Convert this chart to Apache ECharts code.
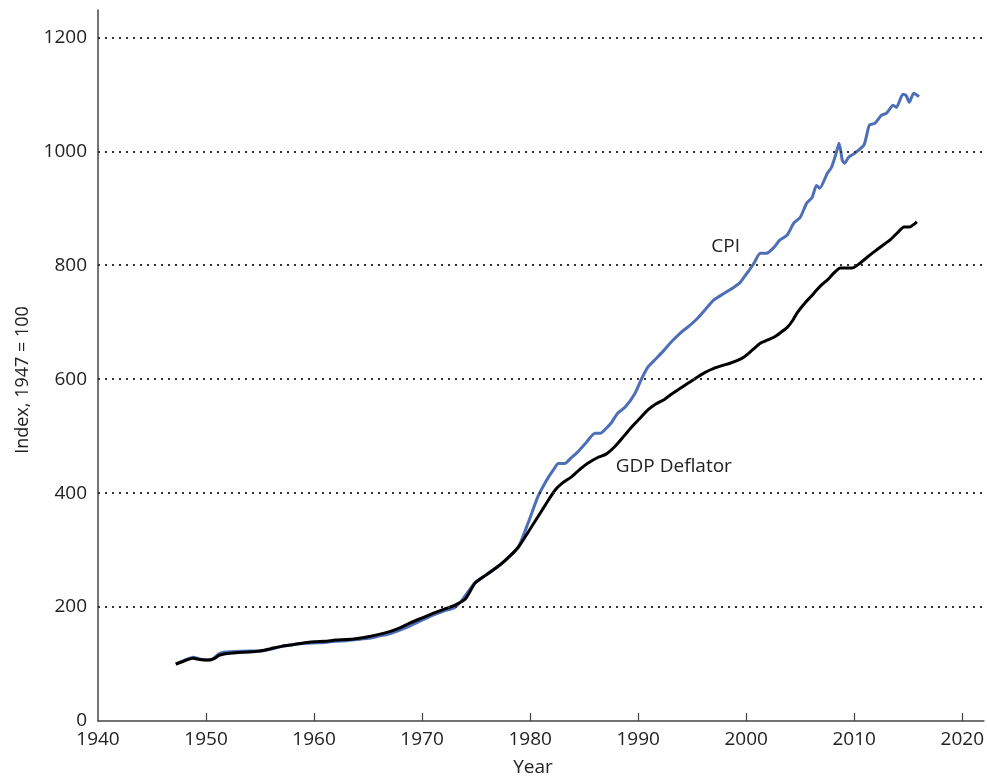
<!DOCTYPE html>
<html>
<head>
<meta charset="utf-8">
<script src="https://cdn.jsdelivr.net/npm/echarts@6/dist/echarts.min.js"></script>
<style>html,body{margin:0;padding:0;background:#fff}#chart{width:987px;height:782px}</style>
</head>
<body>
<div id="chart"></div>
<script>
var xTickLabels = [1940, 1950, 1960, 1970, 1980, 1990, 2000, 2010, 2020];
var yTickLabels = [0, 200, 400, 600, 800, 1000, 1200];

var cpiYears = [1947.2,1947.8,1948.3,1948.8,1949.4,1950.2,1950.7,1951.2,1951.8,1952.8,1954.0,1955.0,1956.0,1957.0,1958.0,1959.0,1960.0,1961.0,1962.0,1963.0,1964.0,1965.0,1966.0,1967.0,1968.0,1969.0,1970.0,1971.0,1972.0,1973.0,1973.6,1974.3,1974.9,1975.9,1976.8,1977.7,1978.9,1979.8,1980.7,1981.3,1981.7,1982.2,1982.6,1983.2,1983.8,1984.4,1985.2,1986.0,1986.5,1987.0,1987.5,1988.1,1988.8,1989.7,1990.3,1990.9,1991.6,1992.4,1993.1,1993.9,1994.7,1995.5,1996.2,1997.0,1997.9,1998.9,1999.4,1999.8,2000.3,2000.7,2001.3,2001.9,2002.6,2003.1,2003.8,2004.4,2005.0,2005.6,2006.1,2006.5,2006.8,2007.5,2007.9,2008.3,2008.6,2008.9,2009.1,2009.5,2010.0,2010.9,2011.4,2011.9,2012.5,2013.0,2013.6,2013.9,2014.5,2014.8,2015.1,2015.5,2016.0];
var cpiValues = [100,105,109,112,109,107,110,118,121,122,123,123,126,131,134,136,137,138,140,141,143,145,149,153,160,168,177,186,193,199,210,228,243,256,268,282,305,347,393,415,428,442,452,452,462,472,489,505,505,513,523,540,551,575,600,621,635,651,666,681,693,707,722,739,750,762,769,779,792,803,821,821,832,844,853,874,884,909,919,940,935,961,972,995,1014,984,979,990,996,1011,1046,1049,1063,1067,1081,1077,1100,1098,1086,1102,1096];

var gdpYears = [1947.2,1947.8,1948.2,1948.8,1949.4,1950.2,1950.7,1951.2,1951.8,1952.8,1954.0,1955.0,1956.0,1957.0,1958.0,1959.0,1960.0,1961.0,1962.0,1963.0,1964.0,1965.0,1966.0,1967.0,1968.0,1969.0,1970.0,1971.0,1972.0,1973.0,1974.0,1974.9,1975.9,1976.8,1977.7,1978.9,1980.1,1981.4,1982.3,1983.0,1983.8,1984.5,1985.3,1986.3,1987.0,1987.8,1988.5,1989.3,1990.1,1990.9,1991.6,1992.4,1993.1,1993.9,1994.7,1995.5,1996.2,1997.0,1997.8,1998.5,1999.2,1999.8,2000.5,2001.3,2002.0,2002.6,2003.2,2003.8,2004.3,2004.7,2005.5,2006.0,2006.5,2007.0,2007.5,2008.1,2008.7,2009.3,2009.8,2010.5,2011.2,2011.8,2012.5,2013.3,2014.0,2014.6,2015.1,2015.8];
var gdpValues = [100,104,107,110,108,107,109,115,118,120,121,123,127,131,134,137,139,140,142,143,145,148,152,157,164,173,181,189,196,203,214,242,256,268,282,305,340,379,405,418,428,440,452,463,468,481,496,514,530,546,556,564,574,584,594,604,612,619,624,628,633,639,650,663,669,674,682,691,703,716,735,745,756,766,774,786,795,795,795,803,814,823,833,844,857,867,867,876];

var seriesLabels = [
  {text: 'CPI', at: [1998.1, 832]},
  {text: 'GDP Deflator', at: [1993.3, 446]}
];

function pairs(xs, ys) { return xs.map(function (x, i) { return [x, ys[i]]; }); }

var font = 'Open Sans';
var chart = echarts.init(document.getElementById('chart'), null, {renderer: 'canvas'});
chart.setOption({
  animation: false,
  backgroundColor: '#fff',
  grid: {left: 98, right: 0, top: 10, bottom: 61, containLabel: false},
  xAxis: {
    type: 'value', min: 1940, max: 2022, interval: 10,
    axisLine: {show: true, onZero: false, lineStyle: {color: '#444', width: 1.5}},
    axisTick: {show: true, inside: true, length: 8, lineStyle: {color: '#444', width: 1.2}, customValues: [1950,1960,1970,1980,1990,2000,2010,2020]},
    axisLabel: {customValues: xTickLabels, formatter: function (v) { return String(v); }, fontFamily: font, fontSize: 19, color: '#222', margin: 9},
    splitLine: {show: false}
  },
  yAxis: {
    type: 'value', min: 0, max: 1248, interval: 200,
    axisLine: {show: true, lineStyle: {color: '#444', width: 1.5}},
    axisTick: {show: false},
    axisLabel: {customValues: yTickLabels, formatter: function (v) { return String(v); }, fontFamily: font, fontSize: 19, color: '#222', margin: 11},
    splitLine: {show: false}
  },
  series: [
    {
      type: 'line', name: 'grid', silent: true, data: [],
      markLine: {
        silent: true, symbol: 'none', label: {show: false},
        lineStyle: {color: '#333', type: [2, 5], width: 2},
        data: [{yAxis: 200}, {yAxis: 400}, {yAxis: 600}, {yAxis: 800}, {yAxis: 1000}, {yAxis: 1200}]
      }
    },
    {
      type: 'line', name: 'CPI', data: pairs(cpiYears, cpiValues), showSymbol: false, smooth: 0.2,
      lineStyle: {color: '#4d6fb8', width: 3}, z: 3
    },
    {
      type: 'line', name: 'GDP Deflator', data: pairs(gdpYears, gdpValues), showSymbol: false, smooth: 0.2,
      lineStyle: {color: '#000', width: 3}, z: 4
    }
  ]
});

var graphics = [
  {type: 'text', x: 533, y: 758, style: {text: 'Year', fontFamily: font, fontSize: 19, fill: '#222', align: 'center', verticalAlign: 'top'}},
  {type: 'text', rotation: Math.PI / 2, x: 23, y: 380, style: {text: 'Index, 1947 = 100', fontFamily: font, fontSize: 18, fill: '#222', align: 'center', verticalAlign: 'middle'}}
];
seriesLabels.forEach(function (l) {
  var p = chart.convertToPixel({gridIndex: 0}, l.at);
  graphics.push({type: 'text', x: p[0], y: p[1], style: {text: l.text, fontFamily: font, fontSize: 19, fill: '#222', align: 'center', verticalAlign: 'middle'}});
});
chart.setOption({graphic: graphics});
</script>
</body>
</html>
